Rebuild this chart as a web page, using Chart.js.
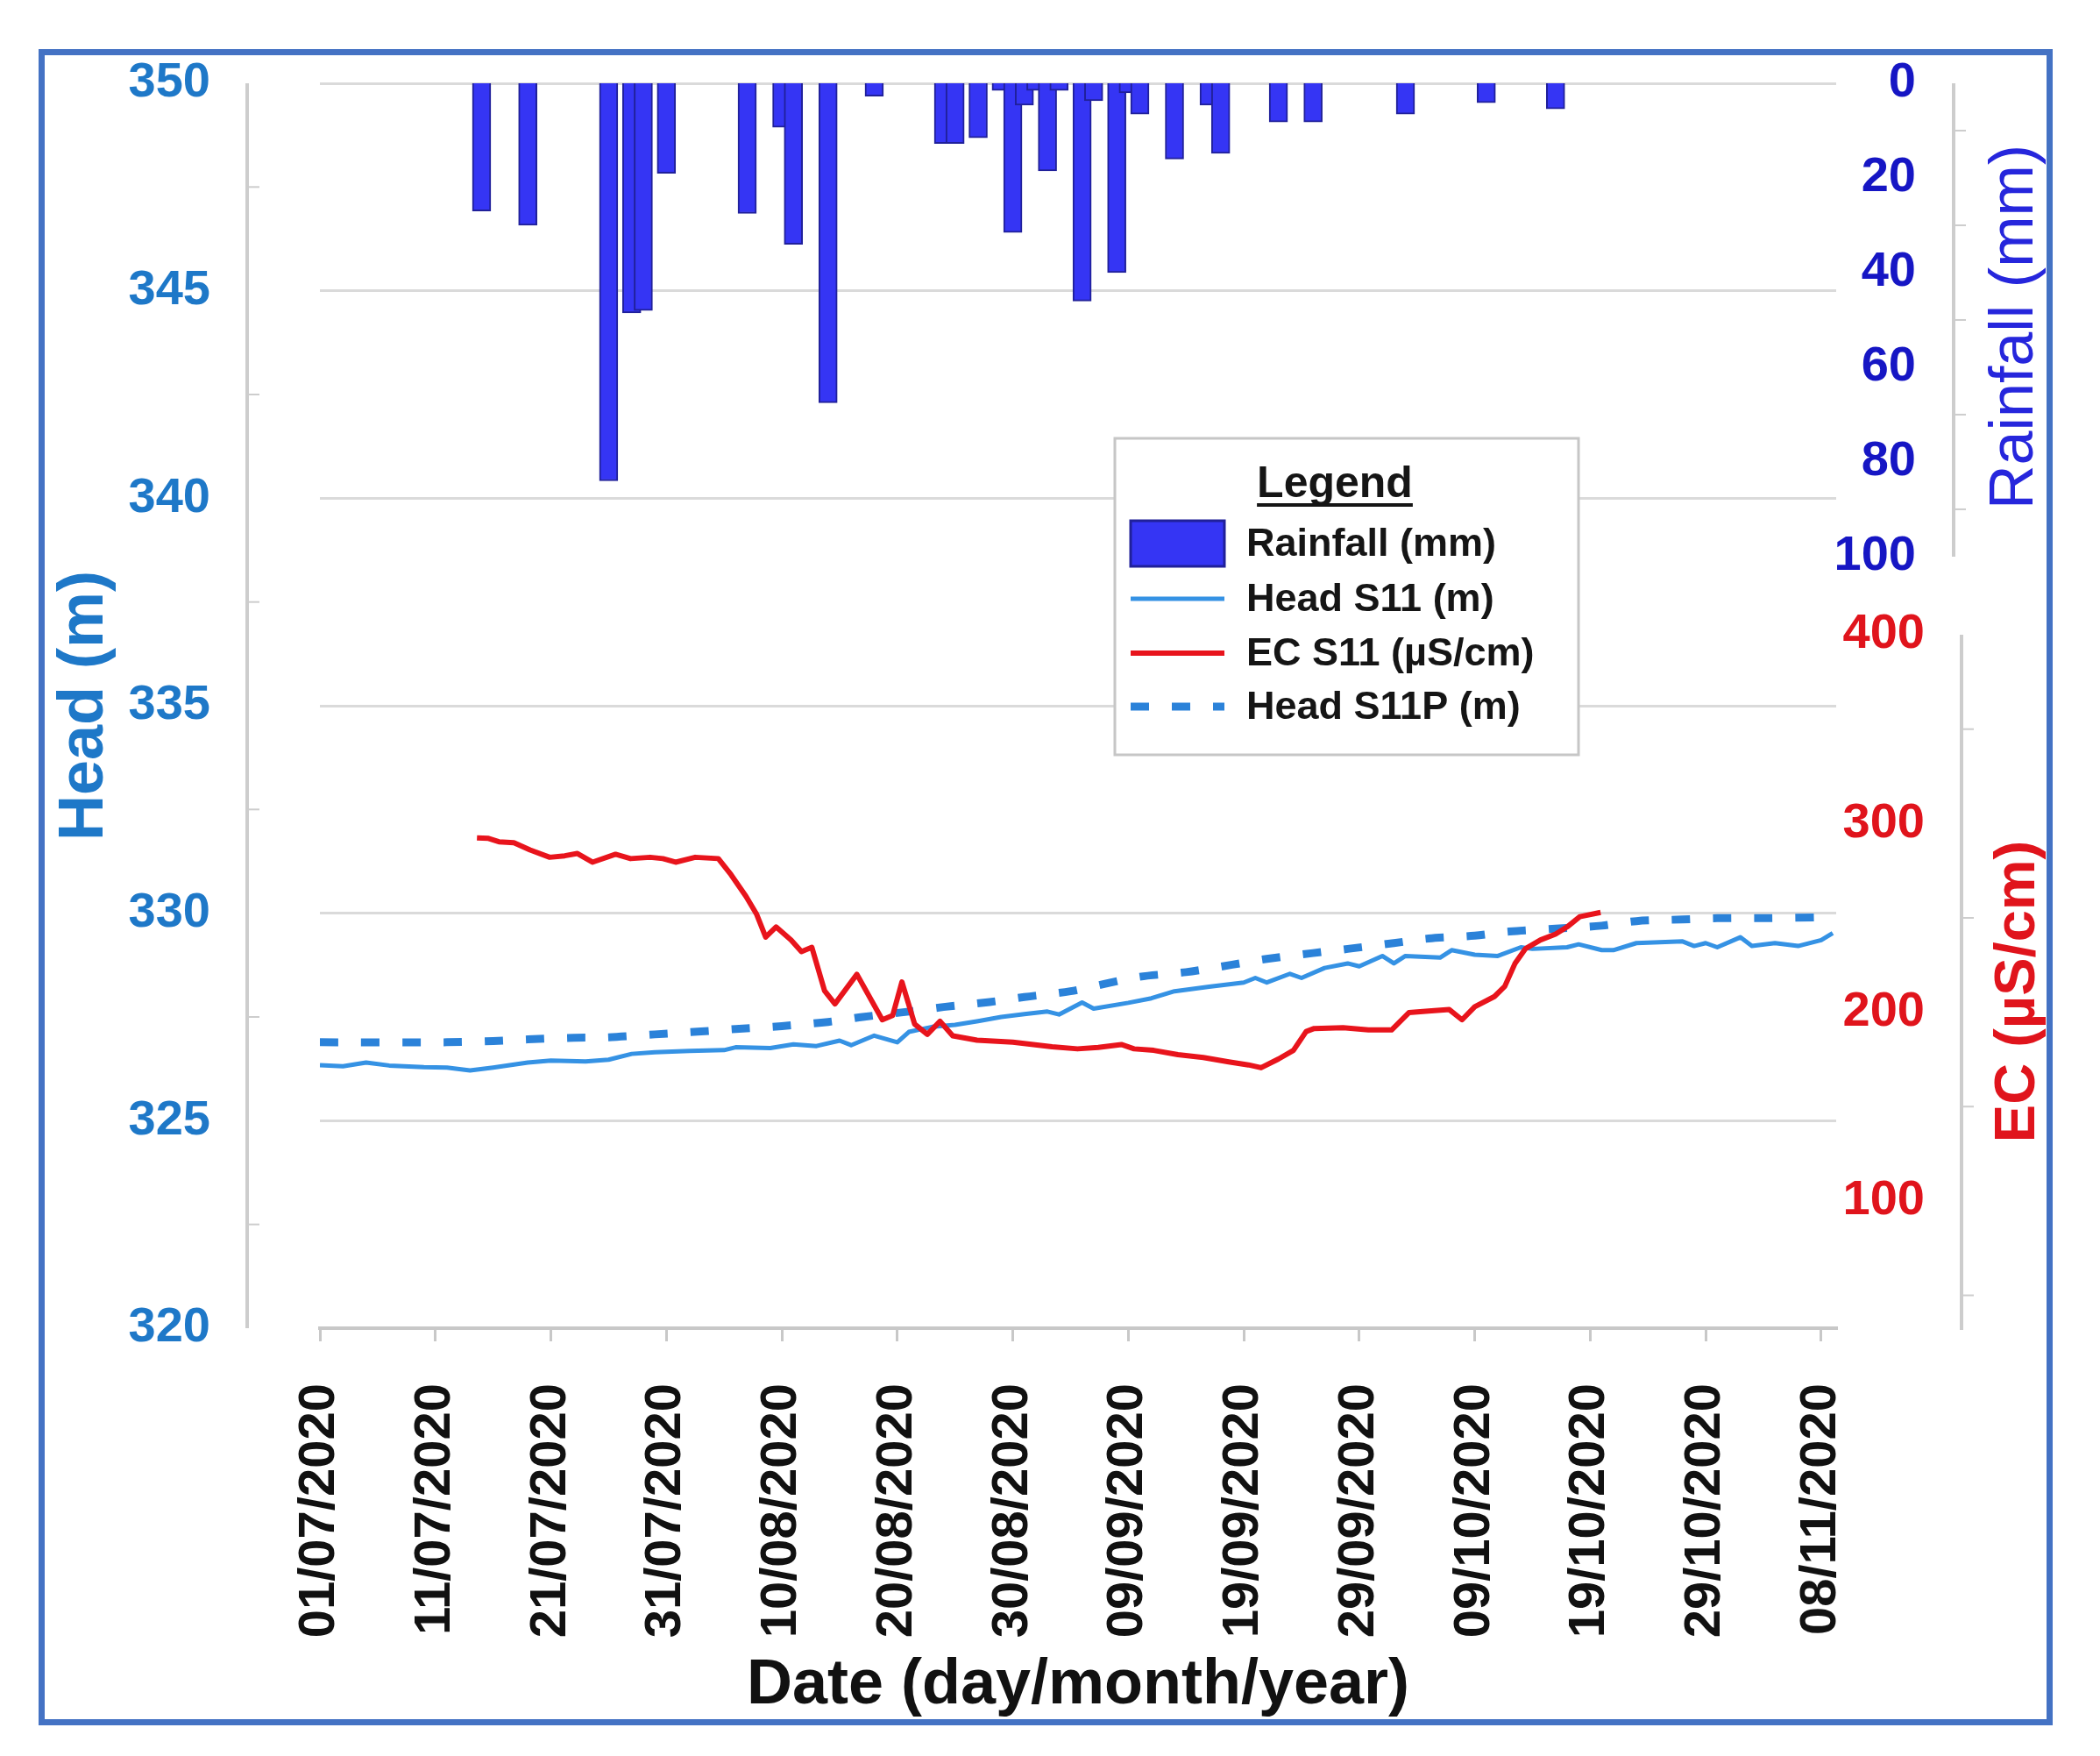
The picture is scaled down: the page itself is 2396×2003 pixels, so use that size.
<!DOCTYPE html>
<html lang="en">
<head>
<meta charset="UTF-8">
<title>Head, EC and rainfall at S11</title>
<script src="https://cdn.jsdelivr.net/npm/chart.js@4.4.1/dist/chart.umd.min.js"></script>
<style>
  html, body { margin: 0; padding: 0; background: #fff; }
  #wrap { width: 2396px; height: 2003px; }
</style>
</head>
<body>
<div id="wrap"><canvas id="myChart" width="2396" height="2003"></canvas></div>
<script>
// day 0 = 01/07/2020
const tickDays = [0, 10, 20, 30, 40, 50, 60, 70, 80, 90, 100, 110, 120, 130]
const tickLabels = ['01/07/2020', '11/07/2020', '21/07/2020', '31/07/2020', '10/08/2020', '20/08/2020', '30/08/2020',
  '09/09/2020', '19/09/2020', '29/09/2020', '09/10/2020', '19/10/2020', '29/10/2020', '08/11/2020']

const headTicks = [320, 325, 330, 335, 340, 345, 350]
const rainTicks = [0, 20, 40, 60, 80, 100]
const ecTicks = [100, 200, 300, 400]

const rainDays = [14, 18, 25, 27, 28, 30, 37, 40, 41, 44, 48, 54, 55, 57, 59, 60, 61, 62, 63, 64, 66, 67, 69, 70, 71, 74, 77, 78, 83, 86, 94, 101, 107]
const rainMm = [27, 30, 84, 48.5, 48, 19, 27.5, 9.3, 34, 67.5, 2.7, 12.7, 12.7, 11.5, 1.5, 31.5, 4.6, 1.5, 18.5, 1.5, 46, 3.7, 40, 2, 6.5, 16, 4.6, 14.8, 8.2, 8.2, 6.5, 4.1, 5.4]

const headDays = [0, 2, 4, 6, 9, 11, 13, 15, 18, 20, 23, 25, 27, 29, 32, 35, 36, 39, 41, 43, 45, 46, 48, 50, 51, 53, 55, 57, 59, 61, 63, 64,
  66, 67, 70, 72, 74, 77, 80, 81, 82, 84, 85, 87, 89, 90, 92, 93, 94, 97, 98, 100, 102, 104, 105, 108, 109, 111, 112, 114, 118, 119, 120,
  121, 123, 124, 126, 128, 130, 131]
const headS11 = [326.34, 326.31, 326.40, 326.33, 326.29, 326.28, 326.21, 326.28, 326.40, 326.45, 326.43, 326.47, 326.61, 326.65, 326.68,
  326.70, 326.77, 326.75, 326.84, 326.80, 326.93, 326.82, 327.05, 326.89, 327.14, 327.26, 327.31, 327.40, 327.50, 327.57, 327.63, 327.56,
  327.85, 327.70, 327.84, 327.95, 328.12, 328.23, 328.33, 328.44, 328.33, 328.54, 328.44, 328.68, 328.79, 328.72, 328.97, 328.79, 328.97,
  328.93, 329.11, 329.00, 328.97, 329.18, 329.14, 329.18, 329.25, 329.11, 329.11, 329.28, 329.32, 329.21, 329.28, 329.18, 329.42, 329.21,
  329.28, 329.21, 329.35, 329.52]

const headPDays = [0, 11, 15, 18, 22, 25, 29, 33, 36, 40, 44, 47, 51, 54, 58, 61, 65, 68, 71, 75, 79, 82, 86, 89, 93, 96, 100, 103, 107,
  111, 114, 118, 121, 125, 130]
const headS11P = [326.89, 326.89, 326.92, 326.96, 327.00, 327.01, 327.08, 327.15, 327.21, 327.28, 327.38, 327.50, 327.63, 327.74, 327.86,
  327.98, 328.12, 328.30, 328.47, 328.58, 328.76, 328.90, 329.04, 329.14, 329.28, 329.39, 329.46, 329.56, 329.63, 329.70, 329.81, 329.85,
  329.88, 329.88, 329.90]

const ecDays = [13.6, 14.6, 15.5, 16.8, 18.2, 19.9, 21.2, 22.3, 23.6, 25.6, 26.9, 28.6, 29.7, 30.8, 32.5, 34.5, 35.6, 36.9, 37.8, 38.6,
  39.5, 40.8, 41.7, 42.6, 43.7, 44.6, 46.5, 48.7, 49.6, 50.4, 51.5, 52.6, 53.7, 54.8, 56.9, 60.0, 63.4, 65.6, 67.4, 69.4, 70.5, 72.2,
  74.3, 76.5, 78.7, 80.4, 81.5, 83.0, 84.3, 85.4, 86.1, 88.6, 90.8, 92.8, 94.3, 96.0, 97.8, 98.9, 100.0, 101.7, 102.6, 103.5, 104.4,
  105.7, 107.0, 108.0, 109.1, 110.9]
const ecS11 = [292.4, 292.1, 290.3, 289.8, 286.0, 282.1, 282.9, 284.1, 279.5, 283.7, 281.4, 282.1, 281.4, 279.5, 282.1, 281.4, 272.9,
  261.4, 252.1, 239.8, 245.2, 238.3, 232.1, 234.4, 211.4, 204.4, 220.1, 196.0, 198.3, 216.0, 193.7, 188.3, 195.2, 187.5, 185.2, 184.1,
  181.7, 180.6, 181.4, 182.9, 180.6, 179.8, 177.5, 176.0, 173.7, 172.1, 170.6, 175.2, 179.8, 189.8, 191.4, 191.8, 190.6, 190.6, 199.8,
  200.6, 201.4, 196.0, 202.9, 208.3, 213.7, 226.0, 233.7, 238.3, 241.4, 245.2, 250.6, 252.9]

const headBlue = '#1E78C8'
const rainBlue = '#1616C4'
const ecRed = '#E0141C'
const axisGray = '#CDCDCD'
const FONT = "'Liberation Sans', Arial, sans-serif"

Chart.defaults.font.family = FONT

function pairs(xs, ys) {
  return xs.map((x, i) => ({ x: x, y: ys[i] }))
}

// axis lines, minor ticks, right-hand titles, legend, frame
const decor = {
  id: 'decor',
  afterDraw(chart) {
    const ctx = chart.ctx
    const yH = chart.scales.y, yR = chart.scales.rain, yE = chart.scales.ec
    ctx.save()
    ctx.strokeStyle = axisGray
    ctx.lineCap = 'butt'

    const vline = (x, y1, y2) => { ctx.lineWidth = 4; ctx.beginPath(); ctx.moveTo(x, y1); ctx.lineTo(x, y2); ctx.stroke() }
    const tick = (x, y) => { ctx.lineWidth = 2; ctx.beginPath(); ctx.moveTo(x, y); ctx.lineTo(x + 14, y); ctx.stroke() }

    vline(282, yH.getPixelForValue(350), yH.getPixelForValue(320))
    ;[347.5, 342.5, 337.5, 332.5, 327.5, 322.5].forEach(v => tick(282, yH.getPixelForValue(v)))

    vline(2229, yR.getPixelForValue(0), yR.getPixelForValue(100))
    ;[10, 30, 50, 70, 90].forEach(v => tick(2229, yR.getPixelForValue(v)))

    vline(2238, yE.getPixelForValue(400), chart.chartArea.bottom + 2)
    ;[350, 250, 150, 50].forEach(v => tick(2238, yE.getPixelForValue(v)))

    // right titles, reading bottom to top
    ctx.textAlign = 'center'
    ctx.textBaseline = 'middle'
    ctx.save()
    ctx.translate(2300, 373)
    ctx.rotate(-Math.PI / 2)
    ctx.fillStyle = '#2626DC'
    ctx.font = '70px ' + FONT
    ctx.fillText('Rainfall (mm)', 0, 0)
    ctx.restore()
    ctx.save()
    ctx.translate(2303, 1131)
    ctx.rotate(-Math.PI / 2)
    ctx.fillStyle = ecRed
    ctx.font = 'bold 65px ' + FONT
    ctx.fillText('EC (µS/cm)', 0, 0)
    ctx.restore()

    // legend
    const ds = chart.data.datasets
    const lx = 1272, ly = 500, lw = 529, lh = 361
    ctx.fillStyle = '#fff'
    ctx.fillRect(lx, ly, lw, lh)
    ctx.strokeStyle = '#C6C6C6'
    ctx.lineWidth = 3
    ctx.strokeRect(lx, ly, lw, lh)

    ctx.fillStyle = '#151515'
    ctx.font = 'bold 50px ' + FONT
    ctx.textBaseline = 'alphabetic'
    ctx.fillText('Legend', 1523, 567)
    const w = ctx.measureText('Legend').width
    ctx.fillRect(1523 - w / 2, 574, w, 4)

    const rows = [
      { d: ds[3], y: 620 },
      { d: ds[1], y: 683 },
      { d: ds[0], y: 745 },
      { d: ds[2], y: 806 }
    ]
    ctx.font = 'bold 45px ' + FONT
    ctx.textAlign = 'left'
    ctx.textBaseline = 'middle'
    rows.forEach(r => {
      const d = r.d
      if (d.type === 'bar') {
        ctx.fillStyle = d.backgroundColor
        ctx.fillRect(1290, r.y - 26, 107, 52)
        ctx.strokeStyle = d.borderColor
        ctx.lineWidth = 3
        ctx.strokeRect(1290, r.y - 26, 107, 52)
      } else {
        ctx.strokeStyle = d.borderColor
        ctx.lineWidth = d.borderWidth
        ctx.setLineDash(d.borderDash || [])
        ctx.beginPath()
        ctx.moveTo(1290, r.y)
        ctx.lineTo(1397, r.y)
        ctx.stroke()
        ctx.setLineDash([])
      }
      ctx.fillStyle = '#151515'
      ctx.fillText(d.label, 1422, r.y + 2)
    })

    // outer frame
    ctx.strokeStyle = '#4472C4'
    ctx.lineWidth = 7
    ctx.strokeRect(47.5, 59.5, 2291, 1905)
    ctx.restore()
  }
}

new Chart(document.getElementById('myChart').getContext('2d'), {
  type: 'line',
  data: {
    datasets: [
      {
        type: 'line', label: 'EC S11 (µS/cm)', data: pairs(ecDays, ecS11), yAxisID: 'ec',
        borderColor: '#E8141C', borderWidth: 6, pointRadius: 0, tension: 0, borderJoinStyle: 'round'
      },
      {
        type: 'line', label: 'Head S11 (m)', data: pairs(headDays, headS11), yAxisID: 'y',
        borderColor: '#3592E4', borderWidth: 5, pointRadius: 0, tension: 0, borderJoinStyle: 'round'
      },
      {
        type: 'line', label: 'Head S11P (m)', data: pairs(headPDays, headS11P), yAxisID: 'y',
        borderColor: '#2B82D9', borderWidth: 9, borderDash: [21, 26], pointRadius: 0, tension: 0.3
      },
      {
        type: 'bar', label: 'Rainfall (mm)', data: pairs(rainDays, rainMm), yAxisID: 'rain',
        backgroundColor: '#3535F4', borderColor: '#20209A', borderWidth: 2, barThickness: 21, grouped: false
      }
    ]
  },
  options: {
    responsive: false,
    devicePixelRatio: 1,
    animation: false,
    layout: { padding: { top: 95, left: 0, right: 200, bottom: 0 } },
    plugins: { legend: { display: false }, tooltip: { enabled: false } },
    scales: {
      x: {
        type: 'linear', min: 0, max: 131.3, offset: false,
        afterBuildTicks: s => { s.ticks = tickDays.map(v => ({ value: v })) },
        afterFit: s => { s.height = 488 },
        ticks: {
          autoSkip: false, minRotation: 90, maxRotation: 90, padding: 48, color: '#111',
          font: { size: 58, weight: 'bold' },
          callback: (v, i) => tickLabels[i]
        },
        grid: { drawOnChartArea: false, drawTicks: true, tickLength: 15, color: '#C8C8C8', lineWidth: 3, offset: false },
        border: { display: true, color: '#C8C8C8', width: 4 },
        title: {
          display: true, text: 'Date (day/month/year)', color: '#111',
          font: { size: 72, weight: 'bold' }, padding: { top: 0, bottom: 37 }
        }
      },
      y: {
        position: 'left', min: 320, max: 350,
        afterBuildTicks: s => { s.ticks = headTicks.map(v => ({ value: v })) },
        afterFit: s => { s.width = 365 },
        ticks: { padding: 0, color: headBlue, font: { size: 56, weight: 'bold' } },
        grid: { color: '#DADADA', lineWidth: 3, drawTicks: true, tickLength: 125, tickColor: 'rgba(0,0,0,0)' },
        border: { display: false },
        title: {
          display: true, text: 'Head (m)', color: headBlue,
          font: { size: 72, weight: 'bold' }, padding: { top: 54, bottom: 0 }
        }
      },
      rain: {
        position: 'right', weight: 0, reverse: true, min: 0, max: 263,
        afterBuildTicks: s => { s.ticks = rainTicks.map(v => ({ value: v })) },
        afterFit: s => { s.width = 91 },
        ticks: { padding: 0, crossAlign: 'far', color: rainBlue, font: { size: 56, weight: 'bold' } },
        grid: { display: false, drawTicks: false },
        border: { display: false }
      },
      ec: {
        position: 'right', weight: 1, min: 32.6, max: 692.2,
        afterBuildTicks: s => { s.ticks = ecTicks.map(v => ({ value: v })) },
        afterFit: s => { s.width = 10 },
        ticks: { mirror: true, padding: 10, crossAlign: 'near', color: ecRed, font: { size: 56, weight: 'bold' } },
        grid: { display: false, drawTicks: false },
        border: { display: false }
      }
    }
  },
  plugins: [decor]
})
</script>
</body>
</html>
